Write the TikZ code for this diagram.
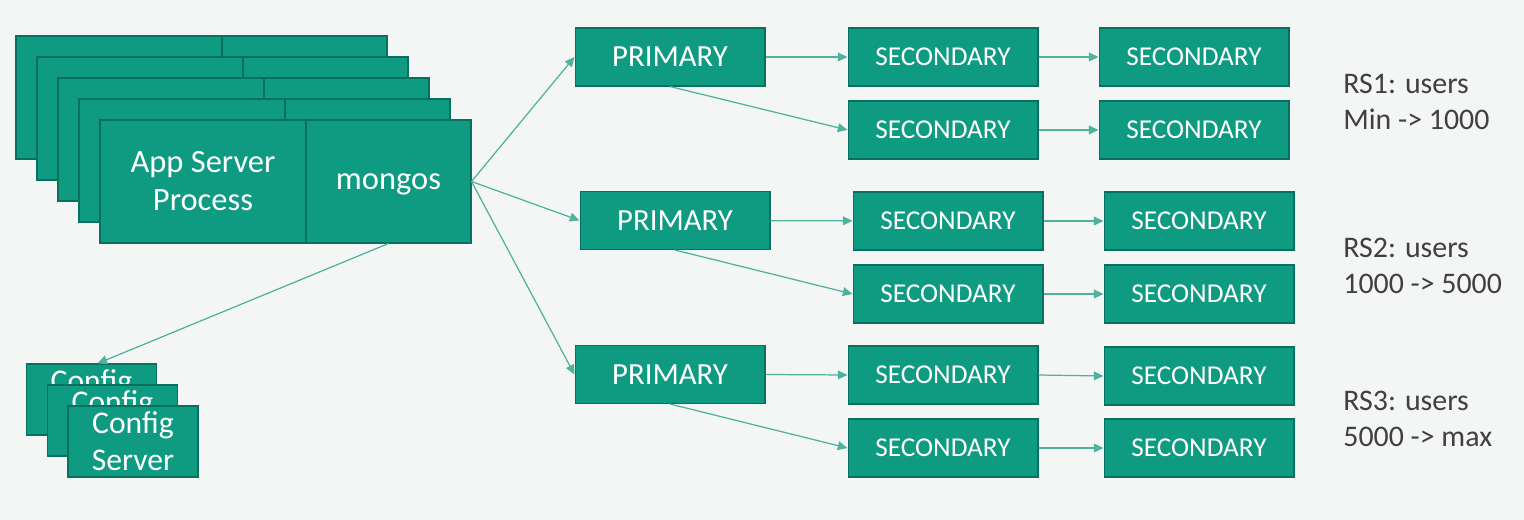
\documentclass[tikz,border=0pt]{standalone}
\usepackage{fontspec}
\setmainfont{Carlito}
\usepackage{xcolor}
\usepackage{tikz}
\usetikzlibrary{arrows.meta,positioning,calc}
\definecolor{mdbg}{RGB}{244,246,245}
\definecolor{mdfill}{RGB}{14,155,130}
\definecolor{mdedge}{RGB}{10,112,94}
\definecolor{mdline}{RGB}{78,178,156}
\definecolor{mdtext}{RGB}{64,64,64}
\tikzset{
  mdbox/.style={
    rectangle, draw=mdedge, fill=mdfill, line width=0.6pt,
    text=white, inner sep=0pt, align=center
  },
  rsbox/.style={mdbox, minimum width=3.8cm, minimum height=1.16cm},
  primbox/.style={rsbox, font=\fontsize{17.5}{21}\selectfont},
  secbox/.style={rsbox, font=\fontsize{15.5}{19}\selectfont},
  appbox/.style={mdbox, minimum width=4.12cm, minimum height=2.46cm, font=\fontsize{18.5}{21.6}\selectfont},
  mgsbox/.style={mdbox, minimum width=3.3cm, minimum height=2.46cm, font=\fontsize{18.5}{21.6}\selectfont},
  cfgbox/.style={mdbox, minimum width=2.6cm, minimum height=1.42cm, font=\fontsize{18}{21.2}\selectfont},
  mdarrow/.style={-{Triangle[length=5.5pt,width=5pt]}, draw=mdline, fill=mdline, line width=0.7pt},
  rslabel/.style={text=mdtext, anchor=west, align=left, inner sep=0pt, font=\fontsize{17}{20.5}\selectfont}
}

\begin{document}
\begin{tikzpicture}[x=0.02cm,y=-0.02cm]
  \fill[mdbg] (0,0) rectangle (1524,520);
  \useasboundingbox (0,0) rectangle (1524,520);
  % stacked app servers, back to front
  \foreach \k in {4,3,2,1} {
    \node[appbox] (app\k) at ({203-21*\k},{181.5-21*\k}) {};
    \node[mgsbox] (mgs\k) at ({388.5-21*\k},{181.5-21*\k}) {};
  }
  \node[appbox] (app) at (203,181.5) {\vphantom{Ap}App Server\\Process};
  \node[mgsbox] (mgs) at (388.5,181.5) {\vphantom{Ap}mongos};
  % config servers (only the front one shows both lines)
  \node[cfgbox] (cfg1) at (91.5,399.5) {Config\\\phantom{Server}};
  \node[cfgbox] (cfg2) at (112.5,420.5) {Config\\\phantom{Server}};
  \node[cfgbox] (cfg3) at (133,441.5) {Config\\Server};
  % replica set 1
  \node[primbox] (p1) at (670,57) {PRIMARY};
  \node[secbox] (s1a) at (943,57) {SECONDARY};
  \node[secbox] (s1b) at (1194,57) {SECONDARY};
  \node[secbox] (s1c) at (943,130) {SECONDARY};
  \node[secbox] (s1d) at (1194,130) {SECONDARY};
  % replica set 2
  \node[primbox] (p2) at (675,220.5) {PRIMARY};
  \node[secbox] (s2a) at (948,221) {SECONDARY};
  \node[secbox] (s2b) at (1199,221) {SECONDARY};
  \node[secbox] (s2c) at (948,294) {SECONDARY};
  \node[secbox] (s2d) at (1199,294) {SECONDARY};
  % replica set 3
  \node[primbox] (p3) at (670,374.5) {PRIMARY};
  \node[secbox] (s3a) at (943,375) {SECONDARY};
  \node[secbox] (s3b) at (1199,376) {SECONDARY};
  \node[secbox] (s3c) at (943,448) {SECONDARY};
  \node[secbox] (s3d) at (1199,448) {SECONDARY};
  % ranges
  \node[rslabel] (rs1) at (1343,102) {RS1: users\\Min -> 1000};
  \node[rslabel] (rs2) at (1343,265.5) {RS2: users\\1000 -> 5000};
  \node[rslabel] (rs3) at (1343,419) {RS3: users\\5000 -> max};
  % mongos to shards and config
  \draw[mdarrow] (mgs.east) -- (p1.west);
  \draw[mdarrow] (mgs.east) -- (p2.west);
  \draw[mdarrow] (mgs.east) -- (p3.west);
  \draw[mdarrow] (mgs.south) -- ([xshift=0.12cm]cfg1.north);
  % replication
  \draw[mdarrow] (p1) -- (s1a);
  \draw[mdarrow] (p1.south) -- (s1c.west);
  \draw[mdarrow] (s1a) -- (s1b);
  \draw[mdarrow] (s1c) -- (s1d);
  \draw[mdarrow] (p2) -- (s2a);
  \draw[mdarrow] (p2.south) -- (s2c.west);
  \draw[mdarrow] (s2a) -- (s2b);
  \draw[mdarrow] (s2c) -- (s2d);
  \draw[mdarrow] (p3.east) -- (s3a.west);
  \draw[mdarrow] (p3.south) -- (s3c.west);
  \draw[mdarrow] (s3a.east) -- (s3b.west);
  \draw[mdarrow] (s3c) -- (s3d);
\end{tikzpicture}
\end{document}
